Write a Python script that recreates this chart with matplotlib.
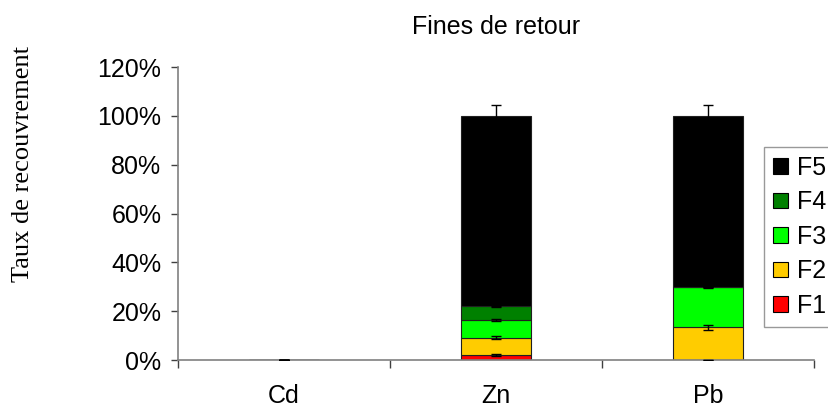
import matplotlib
matplotlib.use('Agg')
import matplotlib.pyplot as plt
from matplotlib.ticker import FuncFormatter, FixedLocator
from matplotlib.patches import Patch
import numpy as np

# fraction data (%), one list per fraction
metals = ['Cd', 'Zn', 'Pb']
fractions = ['F1', 'F2', 'F3', 'F4', 'F5']
f1 = [0.0, 2.0, 0.0]
f2 = [0.0, 7.2, 13.5]
f3 = [0.0, 7.3, 16.5]
f4 = [0.0, 5.5, 0.0]
f5 = [0.0, 78.0, 70.0]
err1 = [0.0, 0.4, 0.0]
err2 = [0.0, 0.6, 1.0]
err3 = [0.0, 0.5, 0.5]
err4 = [0.0, 0.3, 0.0]
err5 = [0.0, 4.5, 4.3]
colors = ['#ff0000', '#ffcc00', '#00ff00', '#008000', '#000000']

plt.rcParams['font.family'] = ['Liberation Sans', 'DejaVu Sans']

fig = plt.figure(figsize=(8.29, 4.12), dpi=100)
ax = fig.add_axes([0.2147, 0.126, 0.982 - 0.2147, 0.837 - 0.126])

x = np.arange(len(metals))
width = 0.33
bottom = np.zeros(len(metals))
for vals, errs, c in zip([f1, f2, f3, f4, f5], [err1, err2, err3, err4, err5], colors):
    vals = np.array(vals)
    ax.bar(x, vals, width, bottom=bottom, color=c, edgecolor='#202020',
           linewidth=0.8, zorder=2)
    ax.errorbar(x, bottom + vals, yerr=errs, fmt='none', ecolor='black',
                elinewidth=1, capsize=3.6, capthick=1, zorder=3)
    bottom = bottom + vals

ax.set_xlim(-0.5, 2.5)
ax.set_ylim(0, 120)
ax.yaxis.set_major_locator(FixedLocator(np.arange(0, 121, 20)))
ax.yaxis.set_major_formatter(FuncFormatter(lambda v, p: '%d%%' % v))

# category ticks sit between the groups, labels in the middle
ax.set_xticks([-0.5, 0.5, 1.5, 2.5])
ax.set_xticklabels([])
ax.set_xticks(x, minor=True)
ax.set_xticklabels(metals, minor=True)
ax.tick_params(axis='x', which='minor', length=0, pad=17, labelsize=18)
ax.tick_params(axis='x', which='major', length=6, width=1, color='#404040')
ax.tick_params(axis='y', length=5, width=1, color='#404040', labelsize=18, pad=7)

for s in ['top', 'right']:
    ax.spines[s].set_visible(False)
for s in ['left', 'bottom']:
    ax.spines[s].set_color('#808080')
    ax.spines[s].set_linewidth(1.2)

ax.set_title('Fines de retour', fontsize=18, pad=24)
fig.text(0.028, 0.602, 'Taux de recouvrement', rotation=90, ha='center',
         va='center', fontsize=19, family=['Liberation Serif', 'DejaVu Serif'])

handles = [Patch(facecolor=c, edgecolor='black', linewidth=0.8) for c in colors]
leg = fig.legend(handles[::-1], fractions[::-1], loc='upper left',
                 bbox_to_anchor=(0.9216, 0.643), fontsize=18, frameon=True,
                 fancybox=False, edgecolor='#808080', handlelength=0.6,
                 handleheight=0.6, handletextpad=0.35, labelspacing=0.42,
                 borderpad=0.35, borderaxespad=0)
leg.get_frame().set_linewidth(1)

fig.savefig('out.png', dpi=100)
